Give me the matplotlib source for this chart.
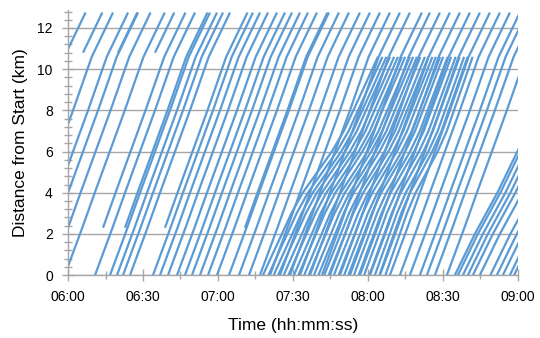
import numpy as np
import matplotlib
matplotlib.use("Agg")
import matplotlib.pyplot as plt
from matplotlib.ticker import MultipleLocator, FuncFormatter

# all times are minutes after 06:00, distances in km

# free-flow running profile over the whole route
FREE_KM = [0, 2.3, 4.0, 6.0, 8.0, 10.6, 12.75]
FREE_MIN = [0, 7.0, 12.0, 18.0, 24.0, 31.5, 40.0]

# vehicles already on the road at 06:00
EARLY_DEP = [-33, -22, -16, -12, -7, -1.3]

# full-route departures from km 0
FULL_DEP = [10.8, 16.8, 19.6, 22, 24.8, 34, 36.8, 40, 43.6, 46.8, 49.6,
            52.8, 56, 59.6, 64.4, 68.4, 72.4, 76.8, 80.8, 84.8, 88.8, 92.8,
            96.8, 101.6, 104.8, 108.8, 112.8, 116.8, 120.8, 124.8, 128.8,
            132.8, 136.8, 140.8, 143.6, 146.8, 151.6]

# vehicles joining part-way along the route
MID_T = [6, 20, 34.8, 14, 22.8, 38.8, 70.8]
MID_KM = [10.8, 10.8, 10.8, 2.3, 2.3, 2.3, 2.3]

# short-turn vehicles in the 07:20-08:10 queue, ending at 10.6 km
BAND_KM = [0, 1, 2, 3, 4, 5, 6, 7, 8, 9, 10.6]
BAND_FRAC = [0, 0.082, 0.165, 0.247, 0.346, 0.473, 0.599, 0.704, 0.786,
             0.869, 1.0]
BAND_DEP = [78, 80.2, 82.3, 84.1, 86.3, 88.2, 90.4, 92.2, 94.5, 96.3, 98.4,
            100.2, 102.5, 104.3, 106.4, 108.3, 110.5, 112.2, 114.4, 116.3,
            118.5, 120.6, 122.8, 124.6, 127]
BAND_TT = [46, 45.6, 45.1, 44.7, 44.2, 43.8, 43.2, 42.7, 42.3, 41.8, 41.2,
           40.8, 40.3, 39.9, 39.4, 38.9, 38.4, 37.9, 37.5, 37.0, 36.6, 36.1,
           35.7, 35.3, 34.9]

# late queue after 08:30
JAM_KM = [0, 2, 4, 6, 8]
JAM_MIN = [0, 8, 17, 25, 33]
JAM_DEP = [154.8, 156, 158, 160, 162, 164.8, 169, 171.6, 174, 176.8, 178.5]

BLUE = "#5B9BD5"
GRID = "#A6A6A6"

plt.rcParams["font.family"] = ["Liberation Sans", "DejaVu Sans"]

fig = plt.figure(figsize=(5.4, 3.38), dpi=100)
ax = fig.add_axes([0.126, 0.186, 0.833, 0.783])

kw = dict(color=BLUE, lw=1.6, solid_capstyle="butt", clip_on=True)
free_km = np.array(FREE_KM)
free_min = np.array(FREE_MIN)

for d in EARLY_DEP + FULL_DEP:
    ax.plot(d + free_min, free_km, **kw)

for t, k in zip(MID_T, MID_KM):
    t0 = np.interp(k, free_km, free_min)
    keep = free_km > k
    ax.plot(np.r_[t, t - t0 + free_min[keep]], np.r_[k, free_km[keep]], **kw)

for d, tt in zip(BAND_DEP, BAND_TT):
    ax.plot(d + tt * np.array(BAND_FRAC), BAND_KM, **kw)

for d in JAM_DEP:
    ax.plot(d + np.array(JAM_MIN), JAM_KM, **kw)

ax.set_xlim(0, 180)
ax.set_ylim(0, 12.85)

ax.yaxis.set_major_locator(MultipleLocator(2))
ax.yaxis.set_minor_locator(MultipleLocator(0.4))
ax.xaxis.set_major_locator(MultipleLocator(30))
ax.xaxis.set_minor_locator(MultipleLocator(15))
ax.xaxis.set_major_formatter(
    FuncFormatter(lambda m, _: f"{6 + int(m) // 60:02d}:{int(m) % 60:02d}"))

ax.grid(axis="y", which="major", color=GRID, lw=1.0)
ax.set_axisbelow(True)
for s in ("top", "right"):
    ax.spines[s].set_visible(False)
for s in ("left", "bottom"):
    ax.spines[s].set_color(GRID)
    ax.spines[s].set_linewidth(1.0)

ax.tick_params(which="both", direction="inout", color=GRID, width=1.0,
               labelsize=10, labelcolor="black")
ax.tick_params(which="major", length=8, pad=7)
ax.tick_params(which="minor", length=6)

ax.set_xlabel("Time (hh:mm:ss)", fontsize=12.5, labelpad=10)
ax.set_ylabel("Distance from Start (km)", fontsize=12.5, labelpad=7)

fig.savefig("out.png", dpi=100)
